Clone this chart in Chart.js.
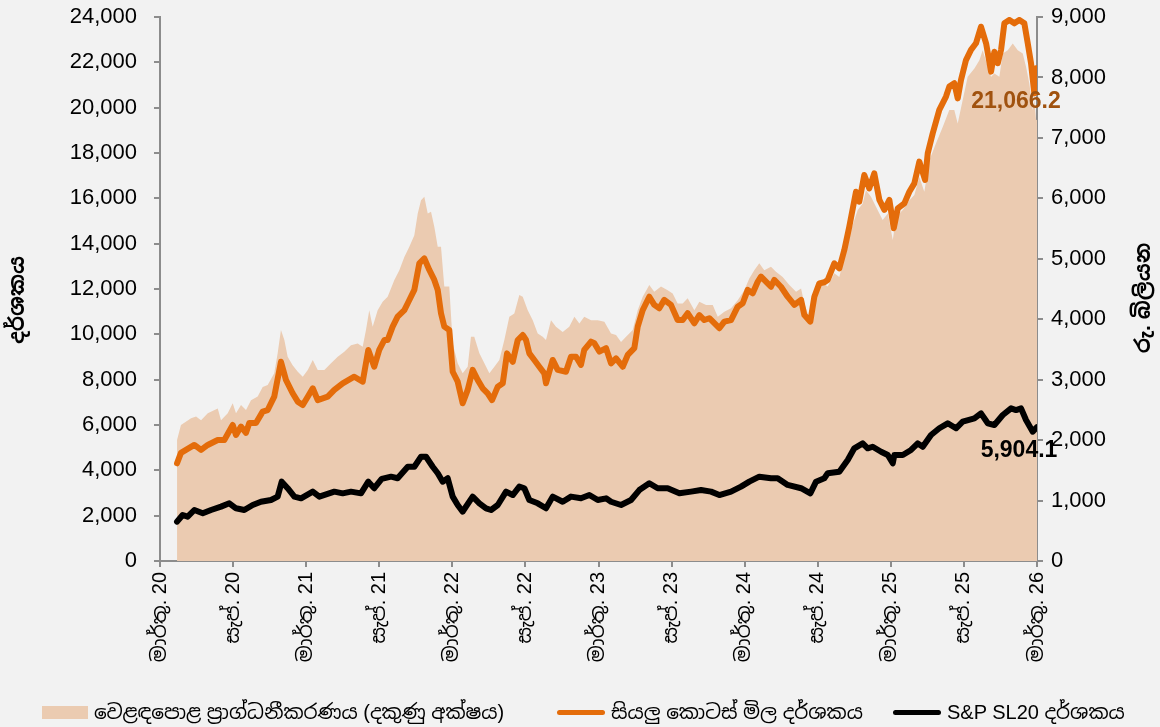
<!DOCTYPE html>
<html>
<head>
<meta charset="utf-8">
<script src="https://cdn.jsdelivr.net/npm/chart.js@4/dist/chart.umd.min.js"></script>
<style>
  body { margin: 0; background: #f2f2f2; }
  #wrap { position: relative; width: 1160px; height: 727px; background: #f2f2f2; }
  #chart { position: absolute; left: 0; top: 0; }
  .item { position: absolute; top: 698px; height: 28px; display: flex; align-items: center;
          font: 20px "Liberation Sans", "Noto Sans Sinhala", "Noto Sans", sans-serif; color: #000; white-space: nowrap; }
  .swatch { display: inline-block; margin-right: 6px; }
</style>
</head>
<body>
<div id="wrap">
  <canvas id="chart" width="1160" height="727"></canvas>
  <div class="item" style="left:42px"><span class="swatch" style="width:46px;height:13px;background:#ebcbb1"></span>වෙළඳපොළ ප්‍රාග්ධනීකරණය (දකුණු අක්ෂය)</div>
  <div class="item" style="left:557px"><span class="swatch" style="width:48px;height:5px;border-radius:3px;background:#e46c0a"></span>සියලු කොටස් මිල දර්ශකය</div>
  <div class="item" style="left:893px"><span class="swatch" style="width:48px;height:5px;border-radius:3px;background:#000"></span>S&amp;P SL20 දර්ශකය</div>
</div>
<script>
// months counted from March 2020
const tickLabels = ["මාර්තු. 20", "සැප්. 20", "මාර්තු. 21", "සැප්. 21", "මාර්තු. 22", "සැප්. 22",
  "මාර්තු. 23", "සැප්. 23", "මාර්තු. 24", "සැප්. 24", "මාර්තු. 25", "සැප්. 25", "මාර්තු. 26"];

// All Share Price Index
const aspiMonths = [1.40,1.72,2.13,2.82,3.37,3.92,4.74,5.28,5.97,6.24,
  6.65,7.06,7.33,7.88,8.43,8.84,9.38,9.93,10.34,10.89,
  11.31,11.72,12.13,12.54,12.95,13.77,14.31,15.00,15.95,16.64,
  17.10,17.59,18.00,18.42,18.69,19.10,19.51,20.06,20.34,20.88,
  21.29,21.70,22.11,22.52,22.80,23.07,23.34,23.75,24.03,24.44,
  24.85,25.26,25.67,26.08,26.49,26.90,27.26,27.73,28.14,28.49,
  28.96,29.37,29.78,30.05,30.32,30.73,31.14,31.55,31.69,32.24,
  32.65,33.33,33.74,34.15,34.56,34.83,35.39,35.66,36.07,36.62,
  37.03,37.44,37.99,38.40,38.94,39.22,39.63,40.17,40.58,40.99,
  41.40,41.95,42.50,42.91,43.32,43.87,44.28,44.69,45.10,45.92,
  46.33,46.88,47.43,47.84,48.25,48.66,49.07,49.34,49.89,50.16,
  50.43,50.98,51.53,52.08,52.63,52.90,53.39,53.72,54.13,54.54,
  54.82,55.36,55.77,56.18,56.59,57.14,57.41,57.82,58.23,58.64,
  59.06,59.47,59.88,60.24,60.57,61.11,61.52,61.93,62.34,62.81,
  63.03,63.44,63.98,64.53,64.80,65.21,65.49,65.76,66.17,66.58,
  66.99,67.40,67.82,68.23,68.50,68.78,69.05,69.32,69.73,70.14,
  70.55,70.96,71.24,71.51,71.78,71.92,72.00];
const aspiValues = [4310,4770,4900,5120,4900,5120,5340,5340,6000,5560,
  5930,5650,6090,6090,6590,6660,7250,8790,7990,7400,
  7030,6880,7250,7620,7100,7250,7550,7840,8130,7910,
  9310,8570,9310,9750,9750,10340,10780,11070,11370,11960,
  13130,13350,12840,12400,11960,10930,10340,10190,8350,7910,
  6960,7550,8430,7990,7620,7400,7100,7690,7840,9160,
  8790,9750,9970,9750,9160,8870,8570,8280,7840,8870,
  8430,8350,9010,9010,8650,9310,9680,9610,9240,9390,
  8720,8940,8570,9090,9390,10340,11070,11660,11300,11150,
  11520,11300,10630,10630,10930,10490,10850,10630,10710,10270,
  10560,10630,11220,11370,11960,11810,12320,12550,12250,12100,
  12400,12100,11660,11300,11520,10850,10560,11660,12250,12300,
  12400,13130,12910,13720,14750,16290,15850,17030,16440,17100,
  15930,15490,15930,14680,15560,15780,16290,16660,17620,16810,
  17990,18870,19900,20490,20930,21080,20410,21220,22100,22550,
  22840,23570,22840,21590,22470,21960,22550,23720,23870,23720,
  23870,23720,22840,21960,20630,21740,21066.2];

// S&P SL20
const sl20Months = [1.40,1.86,2.27,2.82,3.51,4.19,5.01,5.69,6.24,6.92,
  7.61,8.29,9.11,9.66,9.99,10.48,11.03,11.58,12.54,13.08,
  14.31,15.00,15.68,16.50,17.10,17.59,18.20,18.97,19.51,20.34,
  20.88,21.43,21.84,22.39,22.80,23.21,23.62,24.03,24.44,24.85,
  25.12,25.67,26.22,26.77,27.18,27.73,28.41,28.96,29.50,29.91,
  30.32,31.01,31.69,32.24,33.06,33.74,34.56,35.25,35.94,36.62,
  37.03,37.85,38.67,39.35,40.17,40.86,41.68,42.64,43.60,44.42,
  45.24,45.92,46.88,47.70,48.38,49.20,50.16,50.71,51.53,52.63,
  53.39,53.86,54.54,54.82,55.77,56.46,57.00,57.69,58.10,58.51,
  59.20,59.75,60.16,60.29,60.98,61.66,62.21,62.62,63.30,63.98,
  64.67,65.35,65.90,66.86,67.40,67.96,68.50,69.19,69.87,70.28,
  70.69,71.10,71.65,72.00];
const sl20Values = [1735,2030,1955,2250,2105,2250,2400,2545,2325,2250,
  2470,2615,2690,2840,3500,3210,2840,2765,3060,2840,
  3060,2985,3060,2985,3500,3210,3620,3720,3650,4160,
  4160,4600,4600,4160,3870,3500,3650,2840,2470,2175,
  2400,2840,2545,2325,2250,2470,3060,2910,3280,3210,
  2690,2545,2325,2840,2615,2840,2765,2910,2690,2765,
  2615,2470,2690,3130,3430,3210,3210,2985,3060,3130,
  3060,2910,3060,3280,3500,3720,3650,3650,3355,3210,
  2985,3500,3650,3870,3940,4455,4970,5190,4970,5040,
  4820,4675,4310,4675,4675,4900,5190,5040,5560,5855,
  6075,5855,6150,6295,6515,6075,6000,6440,6735,6660,
  6735,6220,5705,5904.1];

// market capitalisation, Rs. bn (right axis)
const mcapMonths = [1.40,1.72,2.55,2.96,3.37,3.92,4.74,5.01,5.56,5.97,
  6.24,6.65,7.06,7.47,8.02,8.43,8.84,9.38,9.66,9.93,
  10.21,10.48,10.89,11.31,11.72,12.13,12.54,12.95,13.49,14.04,
  14.59,15.13,15.68,16.23,16.64,16.91,17.18,17.46,17.87,18.28,
  18.69,19.24,19.65,20.06,20.47,20.88,21.16,21.43,21.70,21.98,
  22.25,22.52,22.80,23.07,23.34,23.75,24.03,24.44,24.85,25.26,
  25.53,25.80,26.22,26.63,27.04,27.45,27.86,28.27,28.68,29.09,
  29.50,29.78,30.19,30.60,31.01,31.42,31.69,32.10,32.51,33.06,
  33.60,34.02,34.43,34.83,35.39,35.94,36.48,37.03,37.44,37.85,
  38.26,38.81,39.22,39.63,40.17,40.58,41.13,41.68,42.09,42.50,
  42.91,43.32,43.87,44.28,44.83,45.38,45.79,46.33,46.88,47.43,
  47.97,48.38,48.79,49.20,49.61,50.16,50.57,51.12,51.67,52.22,
  52.63,52.90,53.31,53.72,54.13,54.54,54.82,55.36,55.77,56.18,
  56.73,57.28,57.69,57.96,58.37,58.78,59.33,59.75,60.16,60.43,
  60.98,61.52,61.93,62.34,62.75,63.16,63.71,64.26,64.80,65.21,
  65.49,65.90,66.31,66.86,67.27,67.54,67.96,68.23,68.50,68.91,
  69.19,69.60,70.01,70.42,70.83,71.10,71.37,71.65,71.78,71.92,
  72.00];
const mcapValues = [2000,2250,2360,2390,2330,2445,2525,2330,2445,2610,
  2445,2580,2500,2660,2720,2880,2910,3105,3435,3820,
  3655,3380,3240,3130,3050,3160,3325,3160,3160,3270,
  3380,3460,3570,3600,3545,3820,4150,3875,4150,4290,
  4370,4650,4810,5030,5200,5390,5750,5970,6025,5750,
  5780,5530,5200,5200,4540,4540,3600,3270,3105,3215,
  3710,3710,3435,3270,3105,3215,3325,3655,4040,4095,
  4400,4370,4150,3985,3765,3710,3655,3985,3875,3790,
  3875,4040,3930,4040,3985,3985,3960,3765,3740,3625,
  3710,3820,4150,4370,4565,4455,4540,4480,4425,4260,
  4260,4345,4150,4290,4235,4235,4040,4125,4180,4315,
  4480,4675,4810,4925,4810,4870,4785,4700,4565,4455,
  4510,4260,4015,4425,4565,4580,4540,4760,4700,5030,
  5475,5805,5915,6135,6025,5860,5640,5750,5310,5695,
  5805,5970,6055,6355,6110,6630,6910,7180,7460,7460,
  7240,7625,8010,8150,8285,8450,8175,8010,8065,8010,
  8395,8450,8560,8450,8395,8175,7900,7460,7625,7295,
  7300];

const toPoints = (xs, ys) => xs.map((x, i) => ({ x: x, y: ys[i] }));

const axisColor = "#8c8c8c";
const tickFont = { family: "'Liberation Sans', Arial, sans-serif", size: 22 };
const sinhalaFont = "'Liberation Sans', 'Noto Sans Sinhala', 'Noto Sans', sans-serif";

// fixed axis widths; the label padding must not push the plot down
const fixWidth = (w) => (s) => { s.width = w; s.paddingTop = 0; s.paddingBottom = 0; };

// axis titles and the end-of-series value labels
const extras = {
  id: "extras",
  afterDraw(chart) {
    const ctx = chart.ctx;
    ctx.save();
    ctx.textAlign = "center";
    ctx.textBaseline = "middle";
    ctx.font = "bold 21px " + sinhalaFont;
    ctx.fillStyle = "#000";
    [["දර්ශකය", 18, 300], ["රු. බිලියන", 1144, 298]].forEach(([t, x, y]) => {
      ctx.save();
      ctx.translate(x, y);
      ctx.rotate(-Math.PI / 2);
      ctx.fillText(t, 0, 0);
      ctx.restore();
    });

    const xs = chart.scales.x, ys = chart.scales.y;
    const lastA = aspiValues.length - 1, lastS = sl20Values.length - 1;
    ctx.font = "bold 23px 'Liberation Sans', Arial, sans-serif";
    ctx.fillStyle = "#a0520f";
    ctx.fillText(aspiValues[lastA].toLocaleString("en-US", { minimumFractionDigits: 1 }),
      xs.getPixelForValue(aspiMonths[lastA]) - 21, ys.getPixelForValue(aspiValues[lastA]) + 18);
    ctx.fillStyle = "#000";
    ctx.fillText(sl20Values[lastS].toLocaleString("en-US", { minimumFractionDigits: 1 }),
      xs.getPixelForValue(sl20Months[lastS]) - 18, ys.getPixelForValue(sl20Values[lastS]) + 23);
    ctx.restore();
  }
};

new Chart("chart", {
  type: "line",
  data: {
    datasets: [
      {
        label: "S&P SL20 දර්ශකය",
        data: toPoints(sl20Months, sl20Values),
        borderColor: "#000",
        borderWidth: 6,
        pointRadius: 0,
        borderJoinStyle: "round",
        borderCapStyle: "round",
        yAxisID: "y",
        order: 1
      },
      {
        label: "සියලු කොටස් මිල දර්ශකය",
        data: toPoints(aspiMonths, aspiValues),
        borderColor: "#e46c0a",
        borderWidth: 6,
        pointRadius: 0,
        borderJoinStyle: "round",
        borderCapStyle: "round",
        yAxisID: "y",
        order: 2
      },
      {
        label: "වෙළඳපොළ ප්‍රාග්ධනීකරණය (දකුණු අක්ෂය)",
        data: toPoints(mcapMonths, mcapValues),
        backgroundColor: "#ebcbb1",
        borderWidth: 0,
        pointRadius: 0,
        fill: "origin",
        yAxisID: "y1",
        order: 3
      }
    ]
  },
  options: {
    responsive: false,
    animation: false,
    layout: { padding: { top: 17, left: 0, right: 0, bottom: 0 } },
    plugins: { legend: { display: false }, tooltip: { enabled: false } },
    scales: {
      x: {
        type: "linear",
        min: 0,
        max: 72,
        afterFit: (s) => { s.height = 727 - 561; },
        afterBuildTicks: (s) => { s.ticks = tickLabels.map((_, i) => ({ value: i * 6 })); },
        ticks: {
          autoSkip: false,
          minRotation: 90,
          maxRotation: 90,
          padding: 5,
          color: "#000",
          font: { family: sinhalaFont, size: 20 },
          callback: (v) => tickLabels[Math.round(v / 6)]
        },
        grid: { drawOnChartArea: false, tickLength: 6, color: axisColor, lineWidth: 2 },
        border: { color: axisColor, width: 2 }
      },
      y: {
        position: "left",
        min: 0,
        max: 24000,
        afterFit: fixWidth(160),
        ticks: { stepSize: 2000, padding: 17, color: "#000", font: tickFont,
          callback: (v) => v.toLocaleString("en-US") },
        grid: { drawOnChartArea: false, tickLength: 6, color: axisColor, lineWidth: 2 },
        border: { color: axisColor, width: 2 }
      },
      y1: {
        position: "right",
        min: 0,
        max: 9000,
        afterFit: fixWidth(1160 - 1037),
        ticks: { stepSize: 1000, padding: 8, color: "#000", font: tickFont,
          callback: (v) => v.toLocaleString("en-US") },
        grid: { drawOnChartArea: false, tickLength: 6, color: axisColor, lineWidth: 2 },
        border: { color: axisColor, width: 2 }
      }
    }
  },
  plugins: [extras]
});
</script>
</body>
</html>
